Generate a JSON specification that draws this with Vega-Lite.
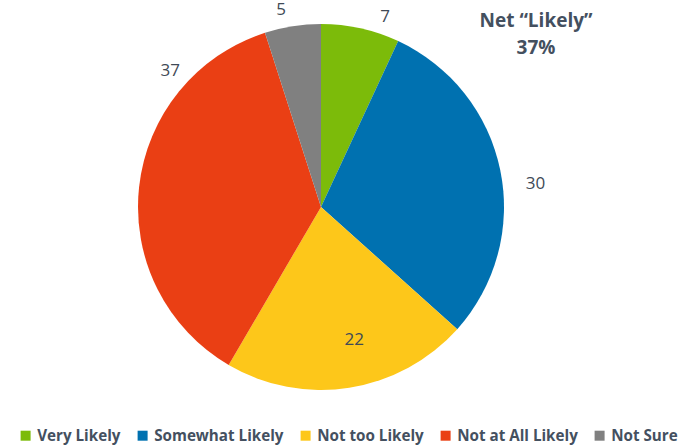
{
  "$schema": "https://vega.github.io/schema/vega-lite/v6.json",
  "width": 642,
  "height": 414,
  "autosize": {"type": "none"},
  "padding": {"left": 0, "top": 0, "right": 49, "bottom": 33},
  "background": "white",
  "config": {"view": {"stroke": null}, "font": "Open Sans"},
  "title": {
    "text": ["Net “Likely”", "37%"],
    "anchor": "end",
    "align": "center",
    "frame": "group",
    "dx": -106,
    "dy": 62,
    "fontSize": 19,
    "fontWeight": "bold",
    "color": "#44505F",
    "lineHeight": 27,
    "font": "Open Sans"
  },
  "data": {
    "values": [
      {"category": "Very Likely", "value": 7, "order": 1},
      {"category": "Somewhat Likely", "value": 30, "order": 2},
      {"category": "Not too Likely", "value": 22, "order": 3},
      {"category": "Not at All Likely", "value": 37, "order": 4},
      {"category": "Not Sure", "value": 5, "order": 5}
    ]
  },
  "encoding": {
    "theta": {"field": "value", "type": "quantitative", "stack": true},
    "order": {"field": "order", "type": "quantitative"}
  },
  "layer": [
    {
      "mark": {"type": "arc", "outerRadius": 183},
      "encoding": {
        "color": {
          "field": "category",
          "type": "nominal",
          "sort": ["Very Likely", "Somewhat Likely", "Not too Likely", "Not at All Likely", "Not Sure"],
          "scale": {
            "domain": ["Very Likely", "Somewhat Likely", "Not too Likely", "Not at All Likely", "Not Sure"],
            "range": ["#7CBB0A", "#0071B0", "#FDC71A", "#EA3F14", "#808080"]
          },
          "legend": {
            "title": null,
            "orient": "none",
            "legendX": 18,
            "legendY": 428,
            "direction": "horizontal",
            "symbolType": "square",
            "symbolSize": 100,
            "symbolStrokeWidth": 0,
            "labelFontSize": 15.2,
            "labelFontWeight": "bold",
            "labelColor": "#44505F",
            "labelFont": "Open Sans",
            "columnPadding": 14,
            "labelOffset": 4
          }
        }
      }
    },
    {
      "mark": {"type": "text", "clip": true, "radius": 195, "dx": 22, "fontSize": 17, "color": "#404A56", "font": "Open Sans"},
      "encoding": {
        "text": {"field": "value", "type": "quantitative"},
        "opacity": {"condition": {"test": "datum.category == 'Very Likely'", "value": 1}, "value": 0}
      }
    },
    {
      "mark": {"type": "text", "clip": true, "radius": 217, "dx": 2, "dy": 21, "fontSize": 17, "color": "#404A56", "font": "Open Sans"},
      "encoding": {
        "text": {"field": "value", "type": "quantitative"},
        "opacity": {"condition": {"test": "datum.category == 'Somewhat Likely'", "value": 1}, "value": 0}
      }
    },
    {
      "mark": {"type": "text", "clip": true, "radius": 137, "dx": 12, "dy": -2, "fontSize": 17, "color": "#404A56", "font": "Open Sans"},
      "encoding": {
        "text": {"field": "value", "type": "quantitative"},
        "opacity": {"condition": {"test": "datum.category == 'Not too Likely'", "value": 1}, "value": 0}
      }
    },
    {
      "mark": {"type": "text", "clip": true, "radius": 207, "dx": 55, "dy": -114, "fontSize": 17, "color": "#404A56", "font": "Open Sans"},
      "encoding": {
        "text": {"field": "value", "type": "quantitative"},
        "opacity": {"condition": {"test": "datum.category == 'Not at All Likely'", "value": 1}, "value": 0}
      }
    },
    {
      "mark": {"type": "text", "clip": true, "radius": 200, "dx": -9, "dy": 1, "fontSize": 17, "color": "#404A56", "font": "Open Sans"},
      "encoding": {
        "text": {"field": "value", "type": "quantitative"},
        "opacity": {"condition": {"test": "datum.category == 'Not Sure'", "value": 1}, "value": 0}
      }
    }
  ]
}
